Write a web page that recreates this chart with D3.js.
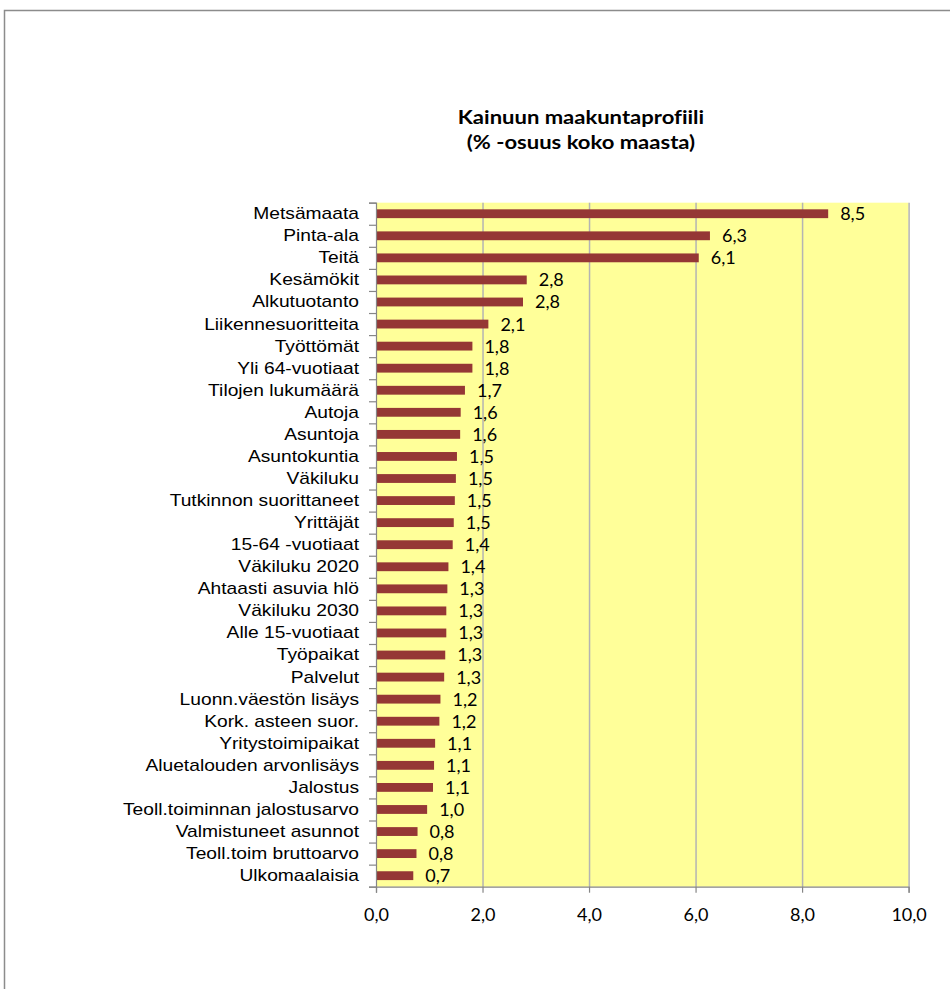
<!DOCTYPE html>
<html>
<head>
<meta charset="utf-8">
<script src="https://cdn.jsdelivr.net/npm/d3@7"></script>
<style>
  body { margin: 0; background: #fff; }
  text { font-variant-ligatures: none; }
</style>
</head>
<body>
<div id="chart"></div>
<script>
// Data
const categories = [
  "Metsämaata", "Pinta-ala", "Teitä", "Kesämökit", "Alkutuotanto",
  "Liikennesuoritteita", "Työttömät", "Yli 64-vuotiaat", "Tilojen lukumäärä",
  "Autoja", "Asuntoja", "Asuntokuntia", "Väkiluku", "Tutkinnon suorittaneet",
  "Yrittäjät", "15-64 -vuotiaat", "Väkiluku 2020", "Ahtaasti asuvia hlö",
  "Väkiluku 2030", "Alle 15-vuotiaat", "Työpaikat", "Palvelut",
  "Luonn.väestön lisäys", "Kork. asteen suor.", "Yritystoimipaikat",
  "Aluetalouden arvonlisäys", "Jalostus", "Teoll.toiminnan jalostusarvo",
  "Valmistuneet asunnot", "Teoll.toim bruttoarvo", "Ulkomaalaisia"
];
const shares = [
  8.49, 6.27, 6.06, 2.83, 2.76,
  2.11, 1.81, 1.81, 1.67,
  1.59, 1.58, 1.52, 1.50, 1.48,
  1.46, 1.44, 1.36, 1.34,
  1.32, 1.32, 1.30, 1.28,
  1.21, 1.19, 1.11,
  1.09, 1.07, 0.96,
  0.78, 0.76, 0.70
];
const xTicks = [0, 2, 4, 6, 8, 10];
const titleLines = ["Kainuun maakuntaprofiili", "(% -osuus koko maasta)"];

const data = categories.map((c, i) => ({ name: c, value: shares[i] }));

const W = 950, H = 989;
const margin = { top: 202.7, right: 41.4, bottom: 102.3, left: 376 };
const width = W - margin.left - margin.right;
const height = H - margin.top - margin.bottom;

const fmt = v => d3.format(".1f")(v).replace(".", ",");

// the reference text is drawn a bit wider than the fonts we have
function stretch(sel, k) {
  sel.each(function() {
    const len = this.getComputedTextLength();
    d3.select(this)
      .attr("textLength", len * k)
      .attr("lengthAdjust", "spacingAndGlyphs");
  });
}

const root = d3.select("#chart").append("svg")
  .attr("width", W)
  .attr("height", H);

// Outer chart frame (runs off the right and bottom edges)
root.append("rect")
  .attr("x", 4.5)
  .attr("y", 10.5)
  .attr("width", 1200)
  .attr("height", 1200)
  .attr("fill", "none")
  .attr("stroke", "#8c8c8c")
  .attr("stroke-width", 1.5);

// Title
root.selectAll(".title")
  .data(titleLines)
  .enter()
  .append("text")
  .attr("class", "title")
  .attr("x", 581)
  .attr("y", (d, i) => 123.5 + i * 25)
  .attr("text-anchor", "middle")
  .style("font-family", "Lato, 'Open Sans', sans-serif")
  .style("font-size", "18.5px")
  .style("font-weight", "700")
  .style("fill", "#000")
  .text(d => d)
  .call(stretch, 1.19);

const svg = root.append("g")
  .attr("transform", `translate(${margin.left},${margin.top})`);

// Scales
const xScale = d3.scaleLinear()
  .domain([0, 10])
  .range([0, width]);

const yScale = d3.scaleBand()
  .domain(categories)
  .range([0, height])
  .paddingInner(0.6)
  .paddingOuter(0.3);

const yEdges = d3.scaleLinear()
  .domain([0, categories.length])
  .range([0, height]);

// Plot background
svg.append("rect")
  .attr("width", width)
  .attr("height", height)
  .attr("fill", "#ffff99");

// Vertical grid lines
svg.append("g")
  .attr("class", "grid")
  .call(d3.axisBottom(xScale)
    .tickValues(xTicks.slice(1))
    .tickSize(height)
    .tickFormat(""))
  .call(g => g.select(".domain").remove())
  .call(g => g.selectAll("line")
    .attr("stroke", "#b4b4b4")
    .attr("stroke-width", 1.5));

// Bars
svg.selectAll(".bar")
  .data(data)
  .enter()
  .append("rect")
  .attr("class", "bar")
  .attr("x", 0)
  .attr("y", d => yScale(d.name))
  .attr("width", d => xScale(d.value))
  .attr("height", yScale.bandwidth())
  .attr("fill", "#953735");

// Value labels
svg.selectAll(".bar-label")
  .data(data)
  .enter()
  .append("text")
  .attr("class", "bar-label")
  .attr("x", d => xScale(d.value) + 12)
  .attr("y", d => yScale(d.name) + yScale.bandwidth() / 2)
  .attr("dy", "0.36em")
  .style("font-family", "Lato, 'Open Sans', sans-serif")
  .style("font-size", "18px")
  .style("fill", "#000")
  .text(d => fmt(d.value));

// Y axis: tick marks at category boundaries
svg.append("g")
  .attr("class", "y-edges")
  .call(d3.axisLeft(yEdges)
    .tickValues(d3.range(categories.length + 1))
    .tickSize(7)
    .tickFormat(""))
  .call(g => g.selectAll("line, path").attr("stroke", "#868686").attr("stroke-width", 1.2));

// Y axis labels
svg.append("g")
  .attr("class", "y-axis")
  .call(d3.axisLeft(yScale).tickSize(0).tickPadding(17))
  .call(g => g.select(".domain").remove())
  .call(g => g.selectAll("text")
    .style("font-family", "'Liberation Sans', Arial, sans-serif")
    .style("font-size", "17px")
    .style("fill", "#000")
    .call(stretch, 1.13));

// X axis
svg.append("g")
  .attr("class", "x-axis")
  .attr("transform", `translate(0,${height})`)
  .call(d3.axisBottom(xScale)
    .tickValues(xTicks)
    .tickSize(6)
    .tickPadding(16)
    .tickFormat(fmt))
  .call(g => g.selectAll("line, path").attr("stroke", "#868686").attr("stroke-width", 1.2))
  .call(g => g.selectAll("text")
    .style("font-family", "Lato, 'Open Sans', sans-serif")
    .style("font-size", "18px")
    .style("fill", "#000"));
</script>
</body>
</html>
